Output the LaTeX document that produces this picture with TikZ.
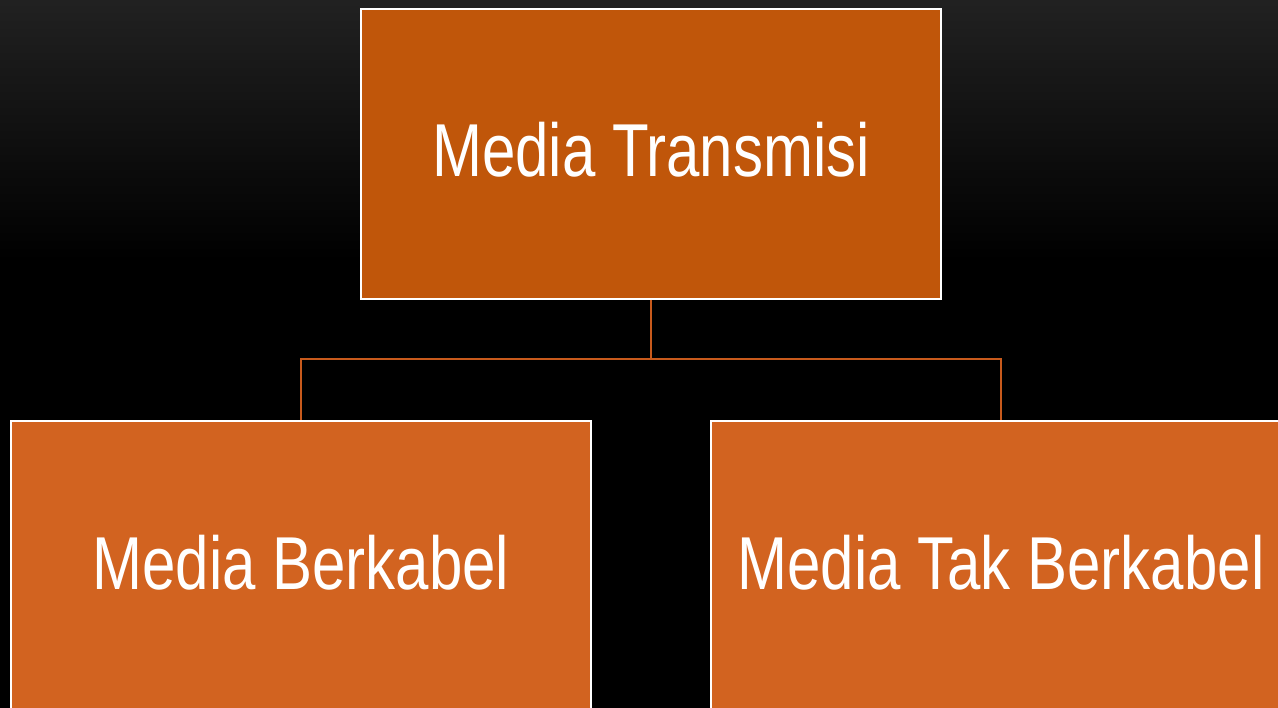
\documentclass[tikz,border=0pt]{standalone}
\usepackage{fontspec}
\newfontfamily\narrowfont{Liberation Sans}[FakeStretch=0.8]
\usepackage{tikz}
\usetikzlibrary{positioning}
\definecolor{topfill}{RGB}{192,86,10}
\definecolor{subfill}{RGB}{210,99,32}
\definecolor{linkline}{RGB}{200,90,28}

\begin{document}
\begin{tikzpicture}[x=1pt, y=-1pt,
  every node/.style={draw=white, line width=1.6pt, text=white, minimum width=580pt, minimum height=290pt, inner sep=0pt, text height=54pt, text depth=8pt, font=\narrowfont\fontsize{75}{90}\selectfont},
  link/.style={draw=linkline, line width=2pt}]
\useasboundingbox (0,0) rectangle (1278,708);
\clip (0,0) rectangle (1278,708);
% background
\shade[top color={black!87}, bottom color=black] (0,0) rectangle (1278,260);
\fill[black] (0,260) rectangle (1278,708);
% boxes
\node[fill=topfill] (MT) at (651,154) {Media Transmisi};
\node[fill=subfill] (MB) at (301,566) {Media Berkabel};
\node[fill=subfill] (MTB) at (1001,566) {Media Tak Berkabel};
\coordinate (J) at (651,359);
\draw[link] (MT.south) -- (J);
\draw[link] (J) -| (MB.north);
\draw[link] (J) -| (MTB.north);
\end{tikzpicture}
\end{document}
